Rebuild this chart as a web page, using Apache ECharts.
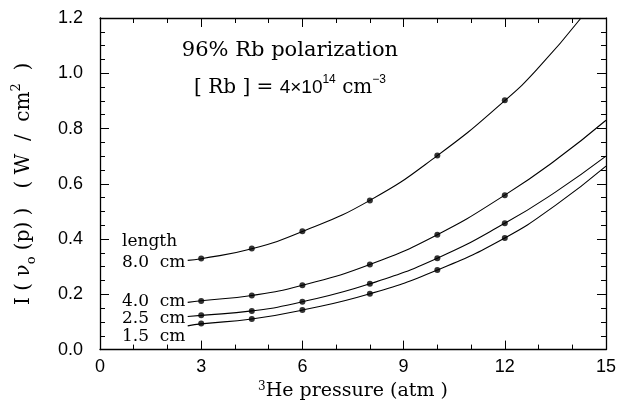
<!DOCTYPE html>
<html>
<head>
<meta charset="utf-8">
<script src="https://cdn.jsdelivr.net/npm/echarts@6/dist/echarts.min.js"></script>
<style>
html,body{margin:0;padding:0;background:#fff;}
#chart{width:619px;height:406px;}
</style>
</head>
<body>
<div id="chart"></div>
<script>
// ---- data ----
var pressureTicks = [0, 3, 6, 9, 12, 15];
var intensityTicks = [0.0, 0.2, 0.4, 0.6, 0.8, 1.0, 1.2];

var pointPressure = [3, 4.5, 6, 8, 10, 12];
var points8cm   = [0.330, 0.366, 0.428, 0.540, 0.702, 0.902];
var points4cm   = [0.176, 0.196, 0.233, 0.308, 0.416, 0.559];
var points25cm  = [0.124, 0.140, 0.173, 0.238, 0.331, 0.457];
var points15cm  = [0.094, 0.111, 0.143, 0.202, 0.288, 0.404];

// fitted curves
var curve8Pressure  = [2.6, 3, 4.5, 6, 8, 10, 12, 13, 14.26];
var curve8Values    = [0.323, 0.329, 0.365, 0.427, 0.540, 0.702, 0.901, 1.02, 1.2];
var curvePressure   = [2.6, 3, 4.5, 6, 8, 10, 12, 13.5, 15];
var curve4Values    = [0.171, 0.177, 0.196, 0.233, 0.308, 0.416, 0.559, 0.685, 0.83];
var curve25Values   = [0.120, 0.124, 0.140, 0.173, 0.238, 0.331, 0.457, 0.570, 0.70];
var curve15Values   = [0.086, 0.093, 0.111, 0.143, 0.202, 0.288, 0.404, 0.522, 0.664];

var lengthLabels = ['8.0  cm', '4.0  cm', '2.5  cm', '1.5  cm'];

function pairs(xs, ys){ return xs.map(function(x,i){ return [x, ys[i]]; }); }

var chart = echarts.init(document.getElementById('chart'), null, {renderer:'canvas'});

var serif = 'DejaVu Serif';
var sans = 'Liberation Sans';

function axisCommon(extra){
  var a = {
    type:'value',
    axisLine:{show:true, onZero:false, lineStyle:{color:'#000', width:1.3}},
    axisTick:{show:true, inside:true, length:9, lineStyle:{color:'#000', width:1}},
    splitLine:{show:false},
    minorSplitLine:{show:false}
  };
  for (var k in extra) a[k] = extra[k];
  return a;
}

var curveStyle = {color:'#000', width:1.1};
function curveSeries(data){
  return {type:'line', data:data, showSymbol:false, smooth:0.5,
          lineStyle:curveStyle, silent:true, clip:true, z:2};
}
function pointSeries(data){
  return {type:'scatter', data:data, symbol:'circle', symbolSize:6,
          itemStyle:{color:'#000'}, z:3};
}

var option = {
  backgroundColor:'#fff',
  animation:false,
  grid:{left:100, right:9, top:18, bottom:52, containLabel:false},
  xAxis:[
    axisCommon({
      position:'bottom', min:pressureTicks[0], max:pressureTicks[pressureTicks.length-1], interval:3,
      minorTick:{show:true, splitNumber:3, length:5, lineStyle:{color:'#000', width:1}},
      axisLabel:{color:'#000', fontFamily:sans, fontSize:18, margin:8},
      name:'{sup|3}{t|He pressure (atm )}',
      nameLocation:'middle', nameGap:30,
      nameTextStyle:{rich:{
        t:{fontFamily:serif, fontSize:19, color:'#000'},
        sup:{fontFamily:serif, fontSize:12, color:'#000', verticalAlign:'top', lineHeight:22}
      }}
    }),
    axisCommon({
      position:'top', min:pressureTicks[0], max:pressureTicks[pressureTicks.length-1], interval:3,
      minorTick:{show:true, splitNumber:3, length:5, lineStyle:{color:'#000', width:1}},
      axisLabel:{show:false}
    })
  ],
  yAxis:[
    axisCommon({
      position:'left', min:intensityTicks[0], max:intensityTicks[intensityTicks.length-1], interval:0.2,
      minorTick:{show:true, splitNumber:4, length:5, lineStyle:{color:'#000', width:1}},
      axisLabel:{color:'#000', fontFamily:sans, fontSize:18, margin:17,
                 formatter:function(v){ return v.toFixed(1); }},
      name:'{t|I ( ν}{sub|o}{t| (p) )   ( W  /  cm}{sup|2}{t|  )}',
      nameLocation:'middle', nameRotate:90, nameGap:62,
      nameTextStyle:{rich:{
        t:{fontFamily:serif, fontSize:20, color:'#000', lineHeight:28},
        sub:{fontFamily:serif, fontSize:13, color:'#000', verticalAlign:'bottom', lineHeight:28},
        sup:{fontFamily:serif, fontSize:13, color:'#000', verticalAlign:'top', lineHeight:28}
      }}
    }),
    axisCommon({
      position:'right', min:intensityTicks[0], max:intensityTicks[intensityTicks.length-1], interval:0.2,
      minorTick:{show:true, splitNumber:4, length:5, lineStyle:{color:'#000', width:1}},
      axisLabel:{show:false}
    })
  ],
  series:[
    curveSeries(pairs(curve8Pressure, curve8Values)),
    curveSeries(pairs(curvePressure, curve4Values)),
    curveSeries(pairs(curvePressure, curve25Values)),
    curveSeries(pairs(curvePressure, curve15Values)),
    pointSeries(pairs(pointPressure, points8cm)),
    pointSeries(pairs(pointPressure, points4cm)),
    pointSeries(pairs(pointPressure, points25cm)),
    pointSeries(pairs(pointPressure, points15cm))
  ],
  graphic:[
    {type:'text', x:290, y:51, style:{text:'96% Rb polarization', fontFamily:serif, fontSize:21,
      fill:'#000', align:'center', verticalAlign:'middle'}},
    {type:'text', x:290, y:88, style:{
      text:'{t|[ Rb ] = }{s|4×10}{sup|14}{t| cm}{sup|−3}',
      align:'center', verticalAlign:'middle',
      rich:{
        t:{fontFamily:serif, fontSize:20, fill:'#000', lineHeight:28},
        s:{fontFamily:sans, fontSize:19, fill:'#000', lineHeight:28},
        sup:{fontFamily:sans, fontSize:12, fill:'#000', verticalAlign:'top', lineHeight:28}
      }}},
    {type:'text', x:122, y:242, style:{text:'length', fontFamily:serif, fontSize:17, fill:'#000', verticalAlign:'middle'}},
    {type:'text', x:122, y:263, style:{text:lengthLabels[0], fontFamily:serif, fontSize:17, fill:'#000', verticalAlign:'middle'}},
    {type:'text', x:122, y:302, style:{text:lengthLabels[1], fontFamily:serif, fontSize:17, fill:'#000', verticalAlign:'middle'}},
    {type:'text', x:122, y:319, style:{text:lengthLabels[2], fontFamily:serif, fontSize:17, fill:'#000', verticalAlign:'middle'}},
    {type:'text', x:122, y:337, style:{text:lengthLabels[3], fontFamily:serif, fontSize:17, fill:'#000', verticalAlign:'middle'}}
  ]
};
chart.setOption(option);
</script>
</body>
</html>
